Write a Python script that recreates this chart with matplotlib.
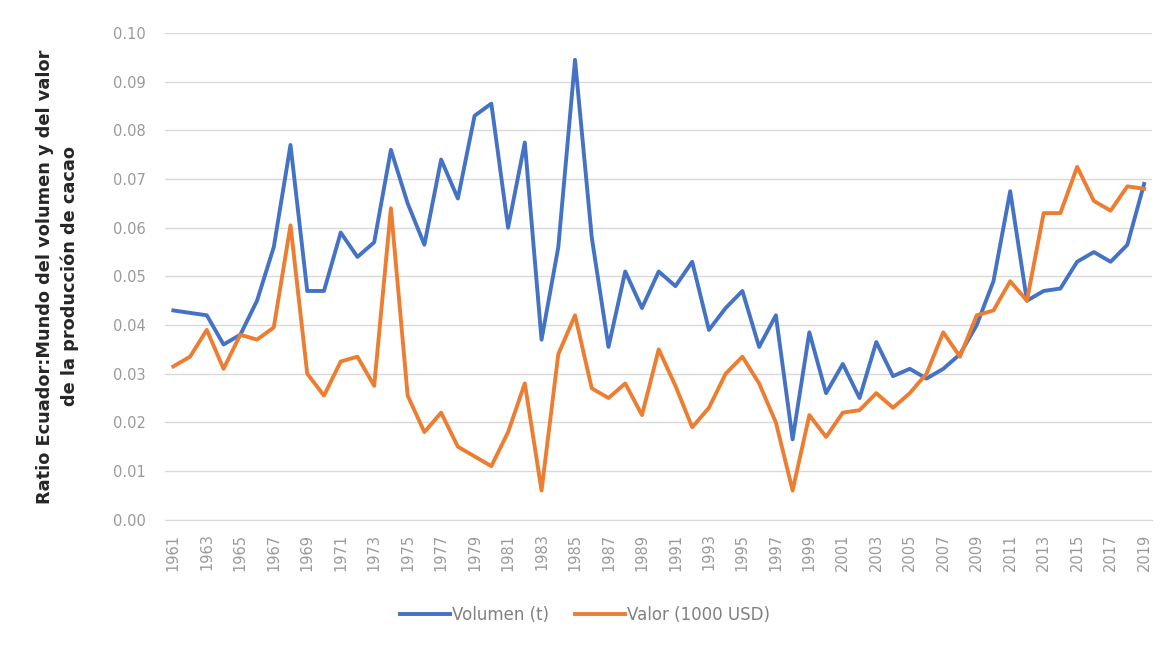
import matplotlib
matplotlib.use('Agg')
import matplotlib.pyplot as plt

years = list(range(1961, 2020))

volumen = [0.043, 0.0425, 0.042, 0.036, 0.038, 0.045, 0.056, 0.077, 0.047, 0.047,
           0.059, 0.054, 0.057, 0.076, 0.065, 0.0565, 0.074, 0.066, 0.083, 0.0855,
           0.060, 0.0775, 0.037, 0.056, 0.0945, 0.058, 0.0355, 0.051, 0.0435, 0.051,
           0.048, 0.053, 0.039, 0.0435, 0.047, 0.0355, 0.042, 0.0165, 0.0385, 0.026,
           0.032, 0.025, 0.0365, 0.0295, 0.031, 0.029, 0.031, 0.034, 0.040, 0.049,
           0.0675, 0.045, 0.047, 0.0475, 0.053, 0.055, 0.053, 0.0565, 0.069]

valor = [0.0315, 0.0335, 0.039, 0.031, 0.038, 0.037, 0.0395, 0.0605, 0.030, 0.0255,
         0.0325, 0.0335, 0.0275, 0.064, 0.0255, 0.018, 0.022, 0.015, 0.013, 0.011,
         0.018, 0.028, 0.006, 0.034, 0.042, 0.027, 0.025, 0.028, 0.0215, 0.035,
         0.0275, 0.019, 0.023, 0.030, 0.0335, 0.028, 0.020, 0.006, 0.0215, 0.017,
         0.022, 0.0225, 0.026, 0.023, 0.026, 0.030, 0.0385, 0.0335, 0.042, 0.043,
         0.049, 0.045, 0.063, 0.063, 0.0725, 0.0655, 0.0635, 0.0685, 0.068]

fig = plt.figure(figsize=(11.7, 6.48), dpi=100)
ax = fig.add_axes([0.141, 0.198, 0.844, 0.751])

ax.plot(years, volumen, color='#4472C4', lw=2.8, label='Volumen (t)')
ax.plot(years, valor, color='#ED7D31', lw=2.8, label='Valor (1000 USD)')

ax.set_xlim(1960.5, 2019.5)
ax.set_ylim(0, 0.10)
ax.set_yticks([i / 100 for i in range(11)])
ax.set_yticklabels([f'{i / 100:.2f}' for i in range(11)])
ax.set_xticks(years[::2])
ax.set_xticklabels([str(y) for y in years[::2]], rotation=90)
ax.grid(axis='y', color='#d9d9d9', lw=1)
ax.set_axisbelow(True)
for s in ['top', 'right', 'left']:
    ax.spines[s].set_visible(False)
ax.spines['bottom'].set_color('#d9d9d9')
ax.tick_params(axis='both', length=0, colors='#9a9a9a', labelsize=10.5)
ax.tick_params(axis='y', pad=14)
ax.tick_params(axis='x', pad=10)

ax.set_ylabel('Ratio Ecuador:Mundo del volumen y del valor\nde la producción de cacao',
              fontsize=12.8, fontweight='bold', color='#262626', labelpad=24,
              linespacing=1.45)

fig.legend(loc='center', bbox_to_anchor=(0.5, 0.051), ncol=2, frameon=False,
           fontsize=12, labelcolor='#808080', handlelength=3, handletextpad=0.1,
           columnspacing=1.6)

fig.savefig('out.png', dpi=100)
